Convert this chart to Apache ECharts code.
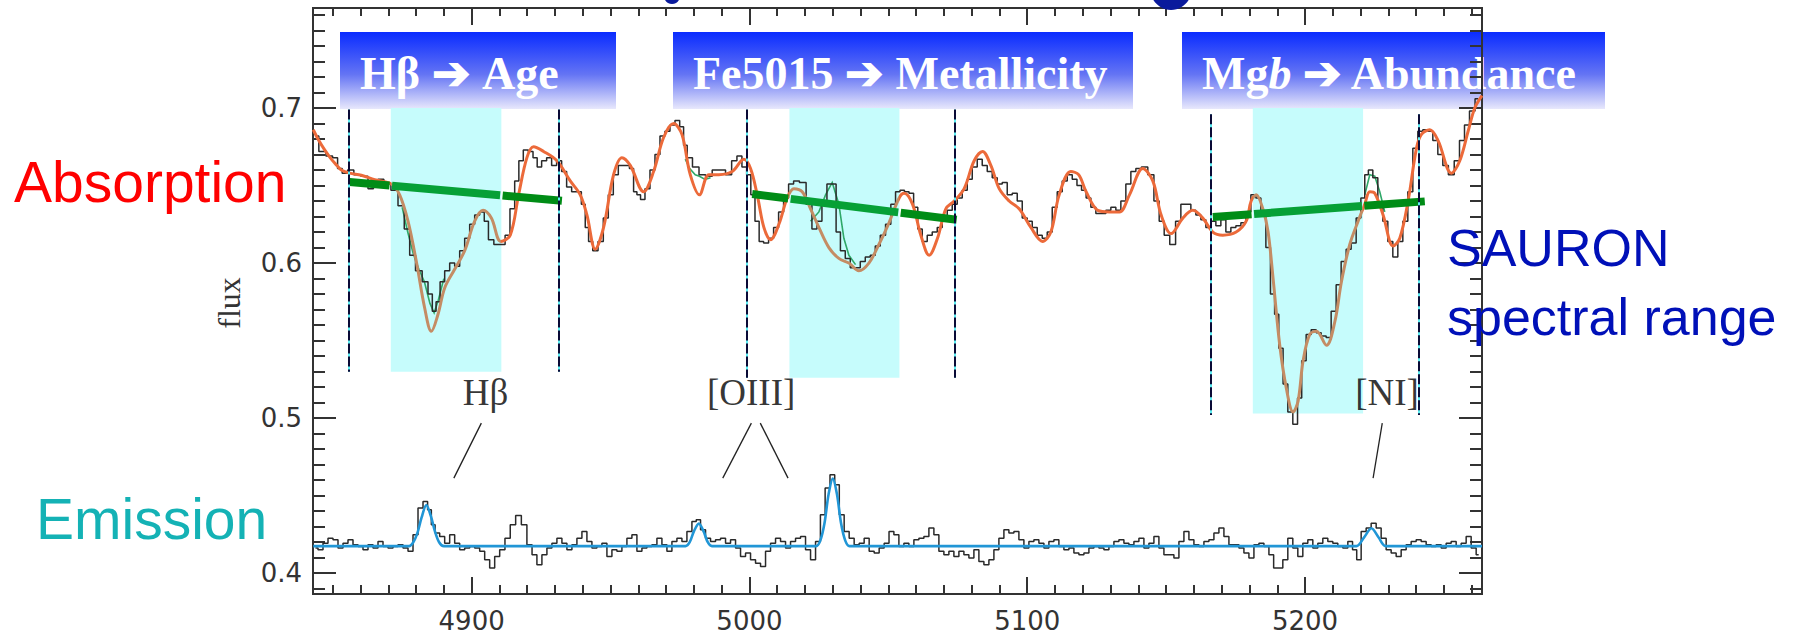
<!DOCTYPE html>
<html><head><meta charset="utf-8">
<script src="https://cdn.jsdelivr.net/npm/echarts@6/dist/echarts.min.js"></script>
<style>html,body{margin:0;padding:0;background:#fff}#c{width:1807px;height:642px}</style>
</head><body><div id="c"></div>
<script>
// ---------------- data (wavelength in Å, flux) ----------------
const absWave = [4843.8,4846.2,4848.9,4851.0,4852.5,4854.3,4856.4,4858.8,4861.5,4863.9,4865.4,4867.2,4869.6,4872.3,4874.7,4876.8,4878.6,4881.0,4883.4,4885.2,4886.5,4887.9,4889.4,4891.2,4893.0,4894.8,4896.6,4898.4,4900.2,4902.0,4903.8,4905.3,4906.8,4909.2,4911.2,4912.9,4914.7,4916.3,4917.7,4919.5,4921.3,4922.9,4924.3,4926.1,4927.9,4929.7,4931.5,4933.3,4935.1,4936.9,4938.7,4940.3,4941.5,4942.7,4944.5,4946.5,4948.3,4950.1,4951.9,4953.7,4955.9,4957.7,4958.9,4960.1,4961.5,4963.3,4965.1,4966.9,4968.7,4970.5,4972.3,4974.1,4975.7,4976.9,4978.3,4980.7,4983.0,4985.4,4987.8,4990.2,4992.6,4994.6,4996.4,4998.2,4999.8,5001.2,5002.8,5004.2,5006.0,5007.8,5009.6,5011.4,5013.2,5015.0,5016.8,5019.2,5021.6,5023.4,5025.2,5027.0,5028.8,5030.5,5031.9,5033.6,5035.4,5037.2,5039.0,5040.8,5042.6,5044.4,5046.2,5048.0,5050.0,5051.8,5053.4,5055.0,5056.6,5058.3,5059.9,5061.3,5063.1,5064.9,5066.7,5068.5,5070.3,5072.1,5073.9,5075.7,5077.5,5079.3,5081.1,5082.9,5084.7,5086.5,5088.3,5090.1,5091.9,5093.7,5095.5,5097.3,5099.1,5100.9,5102.7,5104.5,5106.3,5108.1,5109.9,5111.7,5113.5,5115.3,5117.1,5118.7,5120.4,5122.0,5123.8,5125.6,5127.4,5129.2,5131.0,5132.8,5134.6,5136.4,5138.2,5140.0,5142.2,5144.6,5146.6,5148.4,5150.2,5152.4,5154.4,5156.2,5158.0,5159.8,5161.6,5163.4,5165.2,5167.0,5168.8,5170.6,5172.4,5174.2,5176.0,5177.8,5179.6,5181.4,5183.2,5185.0,5186.8,5188.3,5189.8,5191.3,5192.9,5194.7,5196.5,5198.1,5199.5,5201.3,5203.1,5204.9,5206.7,5208.5,5210.3,5212.1,5213.9,5215.7,5217.5,5219.3,5220.9,5222.1,5223.5,5225.3,5227.1,5228.9,5230.7,5232.5,5234.3,5236.1,5237.9,5239.7,5241.5,5243.3,5245.1,5246.9,5248.7,5250.5,5252.7,5254.7,5256.5,5258.3,5260.1,5262.3];
const absFlux = [0.682,0.672,0.669,0.668,0.661,0.658,0.660,0.657,0.656,0.648,0.653,0.654,0.651,0.647,0.637,0.622,0.605,0.595,0.588,0.580,0.569,0.575,0.588,0.595,0.600,0.598,0.608,0.616,0.625,0.631,0.633,0.627,0.615,0.612,0.612,0.618,0.635,0.653,0.666,0.673,0.672,0.668,0.662,0.666,0.668,0.663,0.666,0.659,0.649,0.646,0.646,0.638,0.623,0.614,0.608,0.614,0.629,0.644,0.657,0.663,0.663,0.661,0.646,0.644,0.641,0.648,0.660,0.670,0.682,0.685,0.689,0.692,0.688,0.676,0.668,0.662,0.657,0.656,0.660,0.660,0.657,0.666,0.669,0.662,0.657,0.644,0.627,0.614,0.613,0.616,0.623,0.633,0.642,0.651,0.653,0.652,0.638,0.622,0.627,0.640,0.651,0.651,0.620,0.608,0.603,0.597,0.597,0.601,0.604,0.605,0.611,0.618,0.625,0.638,0.646,0.647,0.646,0.645,0.636,0.622,0.614,0.618,0.620,0.623,0.627,0.634,0.638,0.642,0.647,0.654,0.662,0.667,0.663,0.659,0.655,0.651,0.652,0.644,0.645,0.640,0.629,0.627,0.623,0.618,0.616,0.620,0.636,0.646,0.653,0.657,0.654,0.650,0.647,0.642,0.636,0.632,0.632,0.634,0.636,0.634,0.640,0.651,0.659,0.661,0.662,0.657,0.640,0.627,0.618,0.612,0.627,0.638,0.638,0.634,0.631,0.628,0.623,0.627,0.624,0.628,0.620,0.623,0.624,0.626,0.633,0.644,0.642,0.631,0.610,0.580,0.567,0.545,0.522,0.504,0.496,0.513,0.537,0.554,0.557,0.555,0.553,0.552,0.569,0.586,0.601,0.609,0.613,0.629,0.642,0.657,0.660,0.655,0.638,0.627,0.614,0.604,0.614,0.627,0.646,0.674,0.685,0.686,0.685,0.679,0.670,0.663,0.657,0.666,0.679,0.689,0.698,0.706];

const fitWave = [4843.0,4845.0,4847.1,4849.5,4851.5,4853.1,4856.1,4860.3,4865.1,4871.1,4874.1,4877.1,4880.1,4883.1,4885.5,4887.9,4890.3,4893.9,4897.5,4901.1,4904.1,4907.1,4910.5,4913.9,4916.9,4919.9,4922.3,4925.9,4930.7,4935.5,4939.1,4941.5,4944.5,4947.5,4951.1,4954.1,4957.1,4961.9,4965.5,4969.1,4972.7,4975.7,4978.7,4982.0,4985.4,4989.0,4993.8,4998.0,5000.4,5002.8,5005.2,5007.6,5010.6,5013.6,5016.0,5019.0,5022.0,5025.0,5028.6,5032.2,5035.8,5039.4,5043.0,5046.6,5050.0,5053.9,5055.7,5058.7,5061.7,5064.7,5067.7,5070.7,5073.7,5077.3,5080.9,5083.9,5086.9,5089.9,5093.5,5097.1,5101.3,5105.5,5108.5,5111.5,5115.7,5118.5,5121.2,5125.4,5129.6,5133.2,5136.8,5141.6,5145.2,5148.2,5151.8,5156.0,5159.6,5163.2,5166.8,5170.4,5175.2,5178.8,5180.6,5182.4,5184.8,5186.7,5188.5,5190.9,5193.3,5195.7,5197.5,5199.3,5201.7,5204.1,5207.7,5210.7,5213.1,5216.1,5219.1,5221.5,5223.3,5225.1,5228.1,5231.7,5234.1,5237.1,5240.1,5241.9,5244.9,5247.9,5252.7,5255.7,5258.7,5261.1,5263.7];
const fitFlux = [0.686,0.679,0.673,0.667,0.663,0.660,0.658,0.6566,0.6538,0.651,0.644,0.627,0.601,0.571,0.556,0.567,0.584,0.596,0.608,0.627,0.634,0.629,0.614,0.618,0.644,0.668,0.675,0.672,0.666,0.653,0.644,0.631,0.609,0.623,0.657,0.668,0.663,0.646,0.659,0.681,0.690,0.683,0.657,0.644,0.657,0.657,0.659,0.667,0.661,0.644,0.623,0.615,0.625,0.642,0.648,0.646,0.635,0.623,0.610,0.603,0.600,0.595,0.600,0.612,0.625,0.642,0.645,0.638,0.618,0.605,0.616,0.635,0.640,0.648,0.666,0.672,0.663,0.648,0.640,0.635,0.623,0.614,0.620,0.644,0.659,0.657,0.646,0.634,0.633,0.633,0.644,0.661,0.653,0.631,0.619,0.629,0.634,0.629,0.620,0.618,0.620,0.627,0.640,0.644,0.635,0.620,0.590,0.547,0.519,0.504,0.511,0.537,0.554,0.556,0.547,0.562,0.588,0.612,0.627,0.638,0.646,0.645,0.631,0.611,0.616,0.640,0.674,0.683,0.686,0.679,0.658,0.666,0.685,0.700,0.708];

// emission-cleaned spectrum, visible where it departs from the observed one
const cleanSegments = [
  [[4875.0,0.636],[4877.0,0.620],[4879.0,0.606],[4881.0,0.596],[4883.0,0.588],[4885.0,0.574],[4886.5,0.568],[4888.0,0.576],[4890.0,0.590]],
  [[4976.9,0.667],[4978.5,0.661],[4980.5,0.657],[4982.0,0.656],[4984.0,0.654],[4986.0,0.655]],
  [[5022.0,0.627],[5025.0,0.633],[5027.4,0.644],[5029.8,0.652],[5032.2,0.638],[5034.0,0.616],[5035.8,0.605],[5038.2,0.599]],
  [[5221.5,0.644],[5223.3,0.657],[5225.1,0.656],[5226.9,0.646],[5228.7,0.633]]
];

const emWave = [4843.8,4845.6,4847.4,4849.2,4851.0,4852.8,4854.6,4856.4,4858.2,4860.0,4861.8,4863.6,4865.4,4867.2,4869.0,4870.8,4872.6,4874.4,4876.2,4878.0,4879.8,4881.6,4883.4,4884.9,4886.1,4887.6,4889.4,4891.2,4893.0,4894.8,4896.6,4898.4,4900.2,4902.0,4903.8,4905.6,4907.4,4909.2,4911.0,4913.0,4914.8,4916.9,4918.9,4920.9,4922.6,4924.4,4926.2,4928.0,4929.8,4931.6,4933.4,4935.2,4937.0,4938.8,4940.6,4942.4,4944.2,4946.0,4947.8,4949.6,4951.4,4953.2,4955.0,4956.8,4958.6,4960.4,4962.2,4964.0,4965.8,4967.6,4969.4,4971.2,4973.0,4974.8,4976.6,4978.4,4980.2,4981.5,4983.3,4985.1,4986.9,4988.7,4990.5,4992.3,4994.1,4995.9,4997.7,4999.5,5001.3,5003.1,5004.9,5006.7,5008.5,5010.3,5012.1,5013.9,5015.7,5017.5,5019.3,5021.1,5022.9,5024.7,5026.4,5028.1,5029.9,5031.5,5033.2,5035.0,5036.8,5038.6,5040.4,5042.2,5044.0,5045.8,5047.6,5049.4,5051.1,5052.9,5054.7,5056.5,5058.3,5060.1,5061.9,5063.7,5065.5,5067.3,5069.1,5070.9,5072.7,5074.5,5076.3,5078.1,5079.9,5081.7,5083.5,5085.3,5087.1,5088.9,5090.7,5092.5,5094.3,5096.1,5097.9,5099.7,5101.5,5103.3,5105.1,5106.9,5108.7,5110.5,5112.3,5114.1,5115.9,5117.7,5119.5,5121.3,5123.1,5124.9,5126.7,5128.5,5130.3,5132.1,5133.9,5135.7,5137.5,5139.3,5141.1,5142.9,5144.7,5146.5,5148.3,5150.1,5151.9,5153.7,5155.5,5157.3,5159.1,5160.9,5162.7,5164.5,5166.3,5168.1,5169.9,5171.7,5173.5,5175.3,5177.1,5178.9,5180.7,5182.5,5184.3,5186.1,5187.9,5189.5,5191.1,5192.9,5194.7,5196.5,5198.3,5200.1,5201.9,5203.7,5205.5,5207.3,5209.1,5210.9,5212.7,5214.5,5216.3,5217.9,5219.3,5221.1,5222.9,5224.7,5226.5,5228.3,5230.1,5231.9,5233.7,5235.5,5237.3,5239.1,5240.9,5242.7,5244.5,5246.3,5248.1,5249.9,5251.7,5253.5,5255.3,5257.1,5258.9,5260.7,5262.5];
const emFlux = [0.4162,0.4151,0.4194,0.4226,0.4216,0.4162,0.4194,0.4216,0.4183,0.4173,0.4151,0.4183,0.4162,0.4205,0.4173,0.4162,0.4173,0.4183,0.4162,0.4141,0.4248,0.4420,0.4463,0.4409,0.4312,0.4259,0.4237,0.4194,0.4248,0.4194,0.4151,0.4162,0.4173,0.4162,0.4141,0.4087,0.4033,0.4108,0.4151,0.4226,0.4312,0.4372,0.4312,0.4183,0.4119,0.4055,0.4119,0.4162,0.4194,0.4226,0.4194,0.4151,0.4183,0.4226,0.4269,0.4205,0.4162,0.4173,0.4194,0.4108,0.4151,0.4141,0.4173,0.4226,0.4248,0.4141,0.4162,0.4173,0.4183,0.4226,0.4183,0.4141,0.4205,0.4226,0.4205,0.4269,0.4334,0.4345,0.4280,0.4226,0.4205,0.4216,0.4226,0.4194,0.4216,0.4162,0.4108,0.4130,0.4087,0.4065,0.4044,0.4141,0.4194,0.4226,0.4205,0.4162,0.4205,0.4226,0.4237,0.4151,0.4087,0.4205,0.4377,0.4549,0.4635,0.4571,0.4377,0.4269,0.4226,0.4183,0.4194,0.4226,0.4141,0.4130,0.4162,0.4194,0.4269,0.4248,0.4173,0.4194,0.4173,0.4216,0.4226,0.4237,0.4291,0.4248,0.4141,0.4119,0.4141,0.4108,0.4141,0.4119,0.4098,0.4151,0.4076,0.4055,0.4087,0.4151,0.4226,0.4280,0.4259,0.4269,0.4216,0.4162,0.4205,0.4216,0.4194,0.4162,0.4205,0.4216,0.4173,0.4151,0.4162,0.4130,0.4119,0.4130,0.4162,0.4173,0.4162,0.4151,0.4173,0.4205,0.4216,0.4194,0.4183,0.4205,0.4226,0.4162,0.4194,0.4237,0.4162,0.4119,0.4119,0.4098,0.4205,0.4269,0.4216,0.4183,0.4173,0.4205,0.4216,0.4259,0.4291,0.4237,0.4183,0.4183,0.4162,0.4130,0.4098,0.4183,0.4194,0.4173,0.4119,0.4033,0.4033,0.4087,0.4226,0.4162,0.4108,0.4194,0.4216,0.4162,0.4194,0.4226,0.4205,0.4194,0.4173,0.4162,0.4205,0.4151,0.4087,0.4269,0.4291,0.4323,0.4291,0.4226,0.4151,0.4130,0.4108,0.4151,0.4183,0.4205,0.4216,0.4205,0.4183,0.4173,0.4183,0.4162,0.4194,0.4205,0.4173,0.4194,0.4237,0.4162,0.4119,0.4141];

const emFitWave = [4843.0,4877.5,4879.0,4880.5,4882.0,4883.7,4885.3,4886.8,4888.3,4890.0,4977.0,4978.5,4980.0,4981.8,4983.5,4985.0,4986.5,5024.0,5025.5,5027.0,5028.5,5030.0,5031.5,5033.0,5034.5,5036.0,5218.5,5221.2,5223.9,5226.5,5229.0,5263.7];
const emFitFlux = [0.4175,0.4175,0.4200,0.4260,0.4360,0.4440,0.4370,0.4270,0.4200,0.4175,0.4175,0.4200,0.4270,0.4320,0.4270,0.4200,0.4175,0.4175,0.4210,0.4320,0.4510,0.4610,0.4510,0.4320,0.4210,0.4175,0.4175,0.4230,0.4290,0.4230,0.4175,0.4175];

// index definitions: central band, pseudo-continuum limits, continuum end points
const bandLo = [4870.9, 5014.4, 5181.2];
const bandHi = [4910.7, 5054.0, 5220.9];
const bandBottom = [0.530, 0.526, 0.503];
const sideLo = [4855.8, 4999.2, 5166.2];
const sideHi = [4931.3, 5074.0, 5240.9];
const sideTop = [0.699, 0.699, 0.696];
const sideBottom = [0.530, 0.526, 0.502];
const contX0 = [4856.1, 5001.0, 5166.8];
const contY0 = [0.6523, 0.6445, 0.6297];
const contX1 = [4932.5, 5074.6, 5243.1];
const contY1 = [0.6402, 0.6280, 0.6398];

// emission line labels and pointers
const lineLabels = ['Hβ', '[OIII]', '[NI]'];
const lineLabelX = [4905.0, 5000.6, 5229.5];
const lineLabelY = [0.5163, 0.5163, 0.5163];
const pointers = [
  [[4903.5, 0.4968], [4893.6, 0.4613]],
  [[5000.7, 0.4968], [4990.4, 0.4613]],
  [[5003.9, 0.4968], [5013.9, 0.4613]],
  [[5227.8, 0.4968], [5224.5, 0.4613]]
];

const X_MIN = 4842.9, X_MAX = 5263.7, Y_MIN = 0.3866, Y_MAX = 0.7645;
const xMajor = [4900, 5000, 5100, 5200];
const xMinor = [];
for (let v = 4850; v <= 5260; v += 10) xMinor.push(v);
const yMajor = [0.4, 0.5, 0.6, 0.7];
const yMinor = [];
for (let i = 39; i <= 76; i++) yMinor.push(i / 100);

// ---------------- chart ----------------
const zip = (a, b) => a.map((v, i) => [v, b[i]]);
const AX = '#333';

function xAx(pos, ticks, len, labels) {
  return {
    type: 'value', min: X_MIN, max: X_MAX, position: pos,
    axisLine: { show: true, onZero: false, lineStyle: { color: AX, width: 2 } },
    axisTick: { show: true, inside: true, length: len, customValues: ticks, lineStyle: { color: AX, width: 2 } },
    axisLabel: labels ? { show: true, customValues: ticks, margin: 14, color: '#333', fontSize: 26, fontFamily: 'DejaVu Sans', formatter: v => String(Math.round(v)) } : { show: false },
    splitLine: { show: false }, minorTick: { show: false }
  };
}
function yAx(pos, ticks, len, labels) {
  return {
    type: 'value', min: Y_MIN, max: Y_MAX, position: pos,
    axisLine: { show: true, onZero: false, lineStyle: { color: AX, width: 2 } },
    axisTick: { show: true, inside: true, length: len, customValues: ticks, lineStyle: { color: AX, width: 2 } },
    axisLabel: labels ? { show: true, customValues: ticks, margin: 11, color: '#333', fontSize: 26, fontFamily: 'DejaVu Sans', formatter: v => v.toFixed(1) } : { show: false },
    splitLine: { show: false }
  };
}

// continuum segments split at the band edges (white gaps)
const contGreen = [];
for (let k = 0; k < 3; k++) {
  const f = x => contY0[k] + (contY1[k] - contY0[k]) * (x - contX0[k]) / (contX1[k] - contX0[k]);
  const g = 0.45;
  const cuts = [contX0[k], bandLo[k] - g, bandLo[k] + g, bandHi[k] - g, bandHi[k] + g, contX1[k]];
  contGreen.push({ coords: [[cuts[0], f(cuts[0])], [cuts[1], f(cuts[1])]], lineStyle: { color: '#008c16' } });
  contGreen.push({ coords: [[cuts[2], f(cuts[2])], [cuts[3], f(cuts[3])]], lineStyle: { color: '#06a036' } });
  contGreen.push({ coords: [[cuts[4], f(cuts[4])], [cuts[5], f(cuts[5])]], lineStyle: { color: '#008c16' } });
}

const sideLines = [];
for (let k = 0; k < 3; k++) {
  sideLines.push({ coords: [[sideLo[k], sideTop[k]], [sideLo[k], sideBottom[k]]] });
  sideLines.push({ coords: [[sideHi[k], sideTop[k]], [sideHi[k], sideBottom[k]]] });
}

const TAN = '#c48c64', ORANGE = '#ec6a3a';

const option = {
  animation: false,
  backgroundColor: '#fff',
  grid: { left: 313, right: 325, top: 8, bottom: 48, containLabel: false },
  xAxis: [xAx('bottom', xMajor, 17, true), xAx('bottom', xMinor, 9, false), xAx('top', xMajor, 17, false), xAx('top', xMinor, 8, false)],
  yAxis: [yAx('left', yMajor, 23, true), yAx('left', yMinor, 12, false), yAx('right', yMajor, 23, false), yAx('right', yMinor, 12, false)],
  visualMap: [{
    type: 'piecewise', show: false, seriesIndex: 3, dimension: 0,
    pieces: bandLo.map((lo, i) => ({ gte: lo, lte: bandHi[i], color: TAN })),
    outOfRange: { color: ORANGE }
  }],
  series: [
    { // index bands
      type: 'line', data: [], z: 1, silent: true,
      markArea: {
        silent: true, itemStyle: { color: '#c6fcfc' },
        data: bandLo.map((lo, i) => [{ coord: [lo, bandBottom[i]] }, { coord: [bandHi[i], 0.70] }])
      }
    },
    { type: 'lines', coordinateSystem: 'cartesian2d', z: 3, silent: true, data: cleanSegments.map(s => ({ coords: s })),
      polyline: true, lineStyle: { color: '#2fa868', width: 1.6, opacity: 1 } },
    { name: 'observed', type: 'line', step: 'middle', data: zip(absWave, absFlux), symbol: 'none', z: 4,
      lineStyle: { color: '#2a2a2a', width: 1.5 } },
    { name: 'fit', type: 'line', smooth: 0.35, data: zip(fitWave, fitFlux), symbol: 'none', z: 5,
      lineStyle: { width: 3 } },
    { name: 'emission', type: 'line', step: 'middle', data: zip(emWave, emFlux), symbol: 'none', z: 4,
      lineStyle: { color: '#2a2a2a', width: 1.5 } },
    { name: 'emission fit', type: 'line', smooth: 0.3, data: zip(emFitWave, emFitFlux), symbol: 'none', z: 5,
      lineStyle: { color: '#2196d6', width: 2.6 } },
    { type: 'lines', coordinateSystem: 'cartesian2d', z: 6, silent: true, data: contGreen,
      lineStyle: { width: 8, opacity: 1, cap: 'butt' } },
    { type: 'lines', coordinateSystem: 'cartesian2d', z: 7, silent: true, data: sideLines,
      lineStyle: { color: '#5ef0f4', width: 2, opacity: 1 } },
    { type: 'lines', coordinateSystem: 'cartesian2d', z: 8, silent: true, data: sideLines,
      lineStyle: { color: '#0a0a36', width: 2, opacity: 1, type: [10, 3] } },
    { type: 'lines', coordinateSystem: 'cartesian2d', z: 8, silent: true, data: pointers.map(p => ({ coords: p })),
      lineStyle: { color: '#222', width: 1.3, opacity: 1 } },
    { type: 'scatter', symbolSize: 0, z: 9, silent: true,
      data: lineLabels.map((t, i) => ({ name: t, value: [lineLabelX[i], lineLabelY[i]] })),
      label: { show: true, position: 'inside', formatter: p => p.name, color: '#000',
        fontFamily: 'Liberation Serif', fontSize: 37 } }
  ],
  graphic: [
    // bottoms of the slide-title glyphs that reach into the picture
    { type: 'ellipse', z: 90, shape: { cx: 672, cy: -4, rx: 8, ry: 8 }, style: { fill: '#0a1a9c' } },
    { type: 'ellipse', z: 90, shape: { cx: 1171, cy: -12, rx: 21, ry: 22 }, style: { fill: '#0a1a9c' } },
    // index boxes
    ...[[340, 276, '{n|Hβ ➔ Age}'], [673, 460, '{n|Fe5015 ➔ Metallicity}'], [1182, 423, '{n|Mg}{i|b}{n| ➔ Abundance}']].map(b => ({
      type: 'group', z: 100, children: [
        { type: 'rect', shape: { x: b[0], y: 32, width: b[1], height: 77 },
          style: { fill: { type: 'linear', x: 0, y: 0, x2: 0, y2: 1,
            colorStops: [{ offset: 0, color: '#0a2cff' }, { offset: 0.55, color: '#6474f4' }, { offset: 1, color: '#e8e8fc' }] } } },
        { type: 'text', x: b[0] + 20, y: 73, style: { text: b[2], fill: '#fff', verticalAlign: 'middle', align: 'left',
          rich: { n: { fontFamily: 'Liberation Serif', fontWeight: 'bold', fontSize: 46, fill: '#fff' },
                  i: { fontFamily: 'Liberation Serif', fontWeight: 'bold', fontStyle: 'italic', fontSize: 46, fill: '#fff' } } } }
      ]
    })),
    { type: 'text', z: 100, x: 14, y: 182, style: { text: 'Absorption', fill: '#ff0000', font: '57px "Liberation Sans"', verticalAlign: 'middle' } },
    { type: 'text', z: 100, x: 36, y: 519, style: { text: 'Emission', fill: '#14b2b5', font: '57px "Liberation Sans"', verticalAlign: 'middle' } },
    { type: 'text', z: 100, x: 1447, y: 248, style: { text: 'SAURON', fill: '#0010b8', font: '52px "Liberation Sans"', verticalAlign: 'middle' } },
    { type: 'text', z: 100, x: 1447, y: 317, style: { text: 'spectral range', fill: '#0010b8', font: '52px "Liberation Sans"', verticalAlign: 'middle' } },
    { type: 'text', z: 100, x: 229, y: 303, rotation: Math.PI / 2, style: { text: 'flux', fill: '#333', font: '32px "Liberation Serif"', align: 'center', verticalAlign: 'middle' } }
  ]
};

const chart = echarts.init(document.getElementById('c'), null, { renderer: 'svg' });
chart.setOption(option);
</script></body></html>
